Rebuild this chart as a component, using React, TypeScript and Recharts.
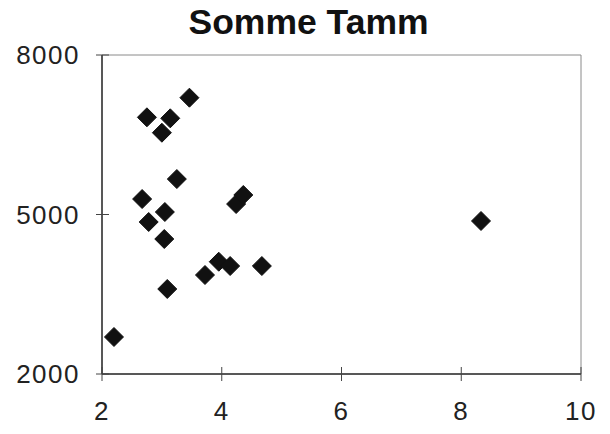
import React from "react";
import { ScatterChart, Scatter, XAxis, YAxis, ReferenceArea } from "recharts";

const TITLE = "Somme Tamm";
const xValues = [2.2, 2.67, 2.75, 2.78, 3.0, 3.04, 3.05, 3.09, 3.14, 3.25, 3.46, 3.72, 3.95, 4.14, 4.24, 4.36, 4.67, 8.33];
const yValues = [2696, 5291, 6828, 4859, 6538, 4539, 5047, 3599, 6809, 5667, 7197, 3862, 4112, 4031, 5197, 5367, 4031, 4878];
const xTicks = [2, 4, 6, 8, 10];
const yTicks = [2000, 5000, 8000];
const xDomain = [2, 10];
const yDomain = [2000, 8000];

const data = xValues.map((x, i) => ({ x, y: yValues[i] }));

const FONT = "'Liberation Sans', Arial, sans-serif";

const XTick = (props: any) => {
  const { x, y, payload } = props;
  return (
    <g>
      <line x1={x} x2={x} y1={y - 7} y2={y + 7} stroke="#444" strokeWidth={1} />
      <text x={x} y={y + 46} textAnchor="middle" fontFamily={FONT} fontSize={26} letterSpacing={1.5} fill="#222">
        {payload.value}
      </text>
    </g>
  );
};

const YTick = (props: any) => {
  const { x, y, payload } = props;
  return (
    <g>
      <line x1={x - 6} x2={x + 7} y1={y} y2={y} stroke="#444" strokeWidth={1} />
      <text x={x - 22} y={y + 9} textAnchor="end" fontFamily={FONT} fontSize={26} letterSpacing={1.5} fill="#222">
        {payload.value}
      </text>
    </g>
  );
};

const Diamond = (props: any) => {
  const { cx, cy } = props;
  const r = 9.5;
  return (
    <path
      d={`M${cx},${cy - r} L${cx + r},${cy} L${cx},${cy + r} L${cx - r},${cy} Z`}
      fill="#111"
      stroke="#111"
      strokeWidth={1}
      strokeLinejoin="round"
    />
  );
};

export default function App() {
  return (
    <div style={{ position: "absolute", left: 0, top: 0, width: 610, height: 434, background: "#fff" }}>
      <div
        style={{
          position: "absolute",
          left: 0,
          top: 5,
          width: 617,
          textAlign: "center",
          fontFamily: FONT,
          fontWeight: "bold",
          fontSize: 35.5,
          lineHeight: "35px",
          color: "#111",
        }}
      >
        {TITLE}
      </div>
      <ScatterChart width={610} height={434} margin={{ top: 55, right: 29, bottom: 0, left: 0 }}>
        <ReferenceArea
          x1={xDomain[0]}
          x2={xDomain[1]}
          y1={yDomain[0]}
          y2={yDomain[1]}
          fill="none"
          fillOpacity={0}
          stroke="#8a8a8a"
          strokeWidth={1}
          ifOverflow="visible"
        />
        <XAxis
          dataKey="x"
          type="number"
          domain={xDomain}
          ticks={xTicks}
          height={60}
          tickSize={0}
          tickMargin={0}
          tickLine={false}
          interval={0}
          axisLine={{ stroke: "#333", strokeWidth: 1.5 }}
          tick={<XTick />}
        />
        <YAxis
          dataKey="y"
          type="number"
          domain={yDomain}
          ticks={yTicks}
          width={102}
          tickSize={0}
          tickMargin={0}
          tickLine={false}
          interval={0}
          axisLine={{ stroke: "#333", strokeWidth: 1.5 }}
          tick={<YTick />}
        />
        <Scatter data={data} shape={<Diamond />} isAnimationActive={false} />
      </ScatterChart>
    </div>
  );
}
